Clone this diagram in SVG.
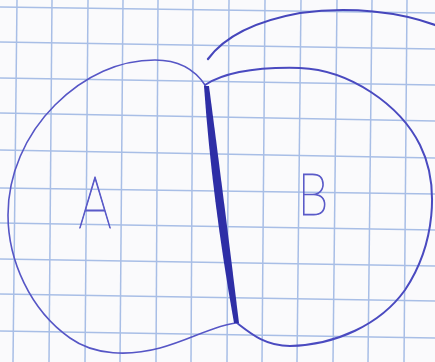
<svg xmlns="http://www.w3.org/2000/svg" width="435" height="362" viewBox="0 0 435 362">
<defs>
<style>
.grid line{stroke:#a8bee6;stroke-width:1.5}
.thin{fill:none;stroke:#5656c6;stroke-width:1.6;stroke-linecap:round;stroke-linejoin:round}
.mid{fill:none;stroke:#4646bc;stroke-width:2.2;stroke-linecap:round}
.lbl{font-family:"Lato","Open Sans",sans-serif;font-weight:100;fill:#5a5ac8;stroke:#5a5ac8;stroke-width:1.1;text-anchor:middle}
</style>
</defs>
<rect width="435" height="362" fill="#fafafc"/>
<g class="grid">
<line x1="0" y1="7" x2="435" y2="13"/>
<line x1="0" y1="42" x2="435" y2="49"/>
<line x1="0" y1="78" x2="435" y2="85"/>
<line x1="0" y1="113" x2="435" y2="121"/>
<line x1="0" y1="150" x2="435" y2="158"/>
<line x1="0" y1="188" x2="435" y2="194"/>
<line x1="0" y1="223" x2="435" y2="230"/>
<line x1="0" y1="259" x2="435" y2="266"/>
<line x1="0" y1="294" x2="435" y2="301"/>
<line x1="0" y1="331" x2="435" y2="338"/>
<line x1="17" y1="0" x2="13" y2="362"/>
<line x1="52" y1="0" x2="49" y2="362"/>
<line x1="88" y1="0" x2="85" y2="362"/>
<line x1="123" y1="0" x2="120" y2="362"/>
<line x1="158" y1="0" x2="156" y2="362"/>
<line x1="193" y1="0" x2="191" y2="362"/>
<line x1="229" y1="0" x2="227" y2="362"/>
<line x1="265" y1="0" x2="262" y2="362"/>
<line x1="301" y1="0" x2="297" y2="362"/>
<line x1="337" y1="0" x2="333" y2="362"/>
<line x1="372" y1="0" x2="368" y2="362"/>
<line x1="407" y1="0" x2="404" y2="362"/>
</g>
<g id="region-A">
<path class="thin" d="M205,85 C195,70 180,60 155,60 C120,60 85,75 55,105 C25,135 8,175 8,215 C8,260 30,310 70,338 C95,356 130,356 160,348 C190,340 215,325 236,323"/>
<text class="lbl" x="95" y="228" font-size="72" transform="translate(95 0) scale(0.72 1) translate(-95 0)">A</text>
</g>
<g id="region-B">
<path class="thin" style="stroke:#4a4ac0;stroke-width:2" d="M205,85 C225,72 260,67 300,68 C350,70 400,105 420,145 C440,185 435,245 405,290 C380,325 335,345 290,346 C265,346 250,333 237,323"/>
<text class="lbl" x="313" y="215" font-size="58" transform="translate(313 0) scale(0.85 1) translate(-313 0)">B</text>
</g>
<g id="connectors">
<path class="mid" d="M208,59 C222,40 250,22 300,13 C350,6 400,12 435,25"/>
<path fill="#2e2ea6" d="M204,86 Q212,200 234,323 L239,323 Q224,200 209,86 Z"/>
</g>
</svg>
